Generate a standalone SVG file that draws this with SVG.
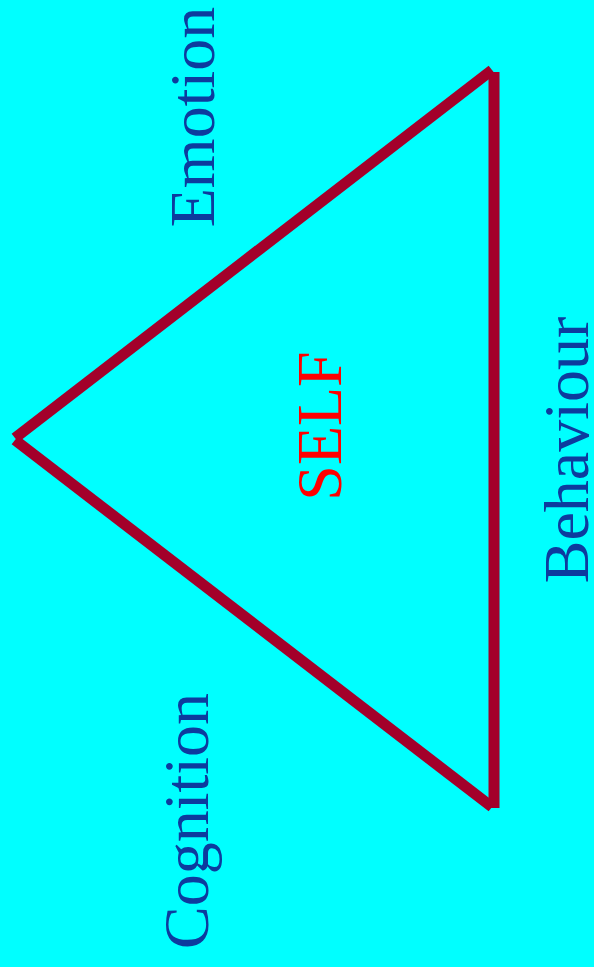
<svg xmlns="http://www.w3.org/2000/svg" width="594" height="967" viewBox="0 0 594 967">
<style>
.lbl{font-family:"Liberation Serif","Times New Roman",serif;font-size:64px;text-anchor:middle;fill:#0d3b9e}
.self{font-family:"Liberation Serif","Times New Roman",serif;font-size:64px;text-anchor:middle;fill:#ff0000}
.edge{stroke:#a3002a;stroke-width:11;fill:none;stroke-linecap:butt}
</style>
<rect width="594" height="967" fill="#00ffff"/>
<g id="connectors">
<line class="edge" x1="494" y1="72" x2="494" y2="808"/>
<line class="edge" x1="492" y1="70" x2="15" y2="438"/>
<line class="edge" x1="15" y1="440" x2="492" y2="807"/>
</g>
<g id="emotion"><text class="lbl" transform="translate(214,117) rotate(-90)">Emotion</text></g>
<g id="behaviour"><text class="lbl" transform="translate(588,450) rotate(-90)">Behaviour</text></g>
<g id="cognition"><text class="lbl" transform="translate(208,821) rotate(-90)">Cognition</text></g>
<g id="self"><text class="self" transform="translate(341,426) rotate(-90)">SELF</text></g>
</svg>
